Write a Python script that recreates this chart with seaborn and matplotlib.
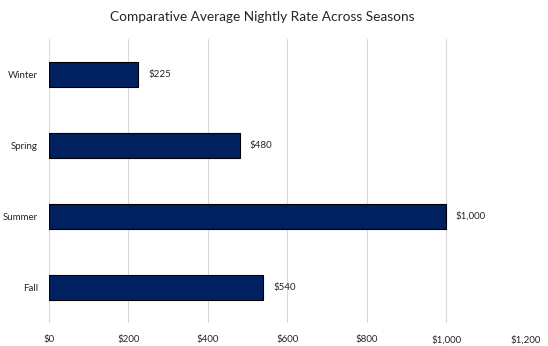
import matplotlib
matplotlib.use("Agg")
import matplotlib.pyplot as plt
import seaborn as sns
import pandas as pd
from matplotlib.ticker import FuncFormatter

seasons = ["Winter", "Spring", "Summer", "Fall"]
rates = [225, 480, 1000, 540]
x_ticks = [0, 200, 400, 600, 800, 1000, 1200]

df = pd.DataFrame({"Season": seasons, "Rate": rates})

sns.set_theme(style="white")
plt.rcParams["font.family"] = ["Lato", "DejaVu Sans"]

fig = plt.figure(figsize=(5.48, 3.46), dpi=100)
ax = fig.add_axes([49/548, 1-322.7/346, (525.5-49)/548, (322.7-39)/346])

sns.barplot(data=df, x="Rate", y="Season", orient="h", color="#002060",
            saturation=1, width=0.35, edgecolor="black", linewidth=0.8, ax=ax)

ax.set_xlim(0, 1200)
ax.set_ylim(3.5, -0.5)
ax.set_xticks(x_ticks)
ax.xaxis.set_major_formatter(FuncFormatter(lambda v, p: f"${v:,.0f}"))
ax.grid(axis="x", color="#d9d9d9", linewidth=0.8)
ax.set_axisbelow(True)
for s in ax.spines.values():
    s.set_visible(False)
ax.tick_params(axis="both", length=0, labelsize=7, colors="#262626")
ax.tick_params(axis="y", pad=8)
ax.tick_params(axis="x", pad=9)
ax.set_xlabel("")
ax.set_ylabel("")

for i, v in enumerate(rates):
    ax.annotate(f"${v:,}", xy=(v, i), xytext=(7, 0), textcoords="offset points",
                va="center", ha="left", fontsize=7, color="#262626")

fig.text(262/548, 1-17/346, "Comparative Average Nightly Rate Across Seasons",
         ha="center", va="center", fontsize=9.8, color="#262626")

fig.savefig("out.png", dpi=100)
